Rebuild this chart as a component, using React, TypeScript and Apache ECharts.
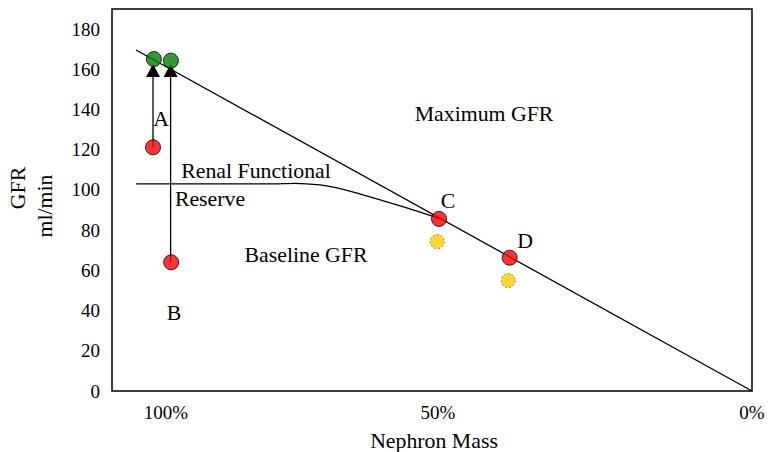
import { useEffect, useRef } from "react";
import * as echarts from "echarts";

// Nephron mass (%) on x (reversed), GFR (ml/min) on y
const xTickValues = [100, 53.6, 0];
const xTickLabels = ["100%", "50%", "0%"];

const maxGfrLine = [
  [105.1, 169.6],
  [0, 0],
];
const reserveCurve = [
  [105.1, 103.0],
  [82.3, 103.0],
  [78.0, 103.3],
  [73.7, 102.5],
  [70.8, 101.0],
  [65.2, 96.6],
  [59.6, 91.7],
  [54.4, 86.8],
  [53.4, 85.6],
];
const arrowA = [
  [102.2, 121.2],
  [102.2, 159.4],
];
const arrowB = [
  [99.2, 64.0],
  [99.2, 159.4],
];
const greenPoints = [
  [102.05, 165.1],
  [99.15, 164.3],
];
const redPoints = [
  [102.2, 121.2],
  [99.1, 64.0],
  [53.4, 85.6],
  [41.35, 66.3],
];
const yellowPoints = [
  [53.7, 74.3],
  [41.6, 54.9],
];

const FONT = "Liberation Serif";

export default function App() {
  const ref = useRef<HTMLDivElement>(null);
  useEffect(() => {
    const chart = echarts.init(ref.current!, null, { renderer: "svg" });
    const arrowData = (pts: number[][]) =>
      pts.map((p, i) =>
        i === pts.length - 1
          ? { value: p, symbol: "triangle", symbolSize: [14, 13] }
          : { value: p, symbol: "none" }
      );
    const txt = (text: string, x: number, y: number, size = 21.8, rotation = 0) => ({
      type: "text",
      x,
      y,
      rotation,
      style: {
        text,
        fill: "#000",
        fontFamily: FONT,
        fontSize: size,
        textAlign: "center",
        textVerticalAlign: "middle",
      },
      z: 100,
    });
    chart.setOption({
      animation: false,
      backgroundColor: "#fff",
      textStyle: { fontFamily: FONT },
      grid: {
        left: 112,
        right: 18,
        top: 9,
        bottom: 61,
        show: true,
        borderColor: "#000",
        borderWidth: 1.5,
        backgroundColor: "transparent",
      },
      xAxis: {
        type: "value",
        min: 0,
        max: 109.2,
        inverse: true,
        axisLine: { show: false },
        axisTick: { show: false },
        splitLine: { show: false },
        axisLabel: {
          customValues: xTickValues,
          formatter: (v: number) => {
            const i = xTickValues.findIndex((t) => Math.abs(t - v) < 1e-6);
            return i >= 0 ? xTickLabels[i] : "";
          },
          color: "#000",
          fontFamily: FONT,
          fontSize: 19,
          margin: 12,
        },
      },
      yAxis: {
        type: "value",
        min: 0,
        max: 190,
        interval: 20,
        axisLine: { show: false },
        axisTick: { show: false },
        splitLine: { show: false },
        axisLabel: {
          showMaxLabel: false,
          color: "#000",
          fontFamily: FONT,
          fontSize: 19,
          margin: 12,
        },
      },
      graphic: [
        txt("Maximum GFR", 484, 114),
        txt("Renal Functional", 256, 171),
        txt("Reserve", 210, 199),
        txt("Baseline GFR", 306, 255),
        txt("A", 161, 119),
        txt("B", 174, 313),
        txt("C", 448, 201),
        txt("D", 525, 241),
        txt("Nephron Mass", 434, 441),
        txt("GFR", 18, 188, 21.8, Math.PI / 2),
        txt("ml/min", 45, 206, 21.8, Math.PI / 2),
      ],
      series: [
        {
          type: "line",
          data: maxGfrLine,
          symbol: "none",
          lineStyle: { color: "#000", width: 1.3 },
          z: 2,
        },
        {
          type: "line",
          data: reserveCurve,
          symbol: "none",
          smooth: 0.3,
          lineStyle: { color: "#000", width: 1.3 },
          z: 2,
        },
        {
          type: "line",
          data: arrowData(arrowA),
          itemStyle: { color: "#000" },
          lineStyle: { color: "#000", width: 1.3 },
          z: 3,
        },
        {
          type: "line",
          data: arrowData(arrowB),
          itemStyle: { color: "#000" },
          lineStyle: { color: "#000", width: 1.3 },
          z: 3,
        },
        {
          type: "scatter",
          data: yellowPoints,
          symbol: "circle",
          symbolSize: 14,
          itemStyle: {
            color: "#FFCC00",
            borderColor: "#8a6d00",
            borderWidth: 1,
            borderType: [2, 2],
          },
          z: 4,
        },
        {
          type: "scatter",
          data: redPoints,
          symbol: "circle",
          symbolSize: 15,
          itemStyle: { color: "#FF0000", borderColor: "#000", borderWidth: 1 },
          z: 5,
        },
        {
          type: "scatter",
          data: greenPoints,
          symbol: "circle",
          symbolSize: 15,
          itemStyle: { color: "#008000", borderColor: "#000", borderWidth: 1 },
          z: 5,
        },
      ],
    });
    return () => chart.dispose();
  }, []);
  return (
    <div
      ref={ref}
      style={{ position: "fixed", left: 0, top: 0, width: 770, height: 452 }}
    />
  );
}
